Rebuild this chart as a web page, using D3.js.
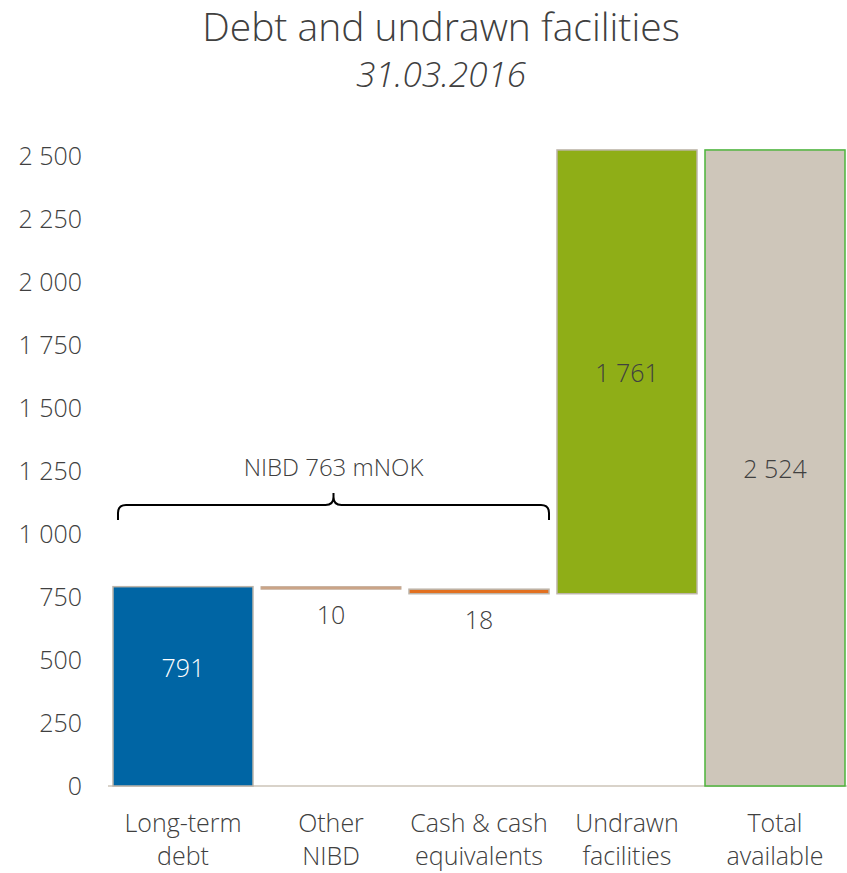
<!DOCTYPE html>
<html>
<head>
<meta charset="utf-8">
<script src="https://cdn.jsdelivr.net/npm/d3@7"></script>
<style>
  body { margin: 0; background: #fff; }
  text { font-family: "Open Sans", sans-serif; font-weight: 300; fill: #404040; }
</style>
</head>
<body>
<div class="chart"></div>
<script>
//////////
// DATA //
//////////

var categories = ['Long-term debt', 'Other NIBD', 'Cash & cash equivalents', 'Undrawn facilities', 'Total available'];
var labelLines = [['Long-term', 'debt'], ['Other', 'NIBD'], ['Cash & cash', 'equivalents'], ['Undrawn', 'facilities'], ['Total', 'available']];
var barStart = [0, 791, 781, 763, 0];
var barEnd = [791, 781, 763, 2524, 2524];
var barValues = [791, 10, 18, 1761, 2524];
var yTicks = [0, 250, 500, 750, 1000, 1250, 1500, 1750, 2000, 2250, 2500];
var bracketLabel = 'NIBD 763 mNOK';

var fills = ['#0065A4', '#CDA282', '#E2701F', '#8FAE17', '#CEC6BA'];
var strokes = ['#BDB5AA', '#C4AC98', '#BDB5AA', '#BDB5AA', '#4DB43C'];

////////////////
// DIMENSIONS //
////////////////

var w = 847, h = 873;

var svg = d3.select('.chart')
    .append('svg')
    .attr('width', w)
    .attr('height', h);

var fmt = d3.formatLocale({ decimal: ',', thousands: ' ', grouping: [3], currency: ['', ''] }).format(',d');

////////////
// SCALES //
////////////

var xScale = d3.scaleBand()
    .domain(categories)
    .range([109, 849])
    .paddingInner(0.054)
    .paddingOuter(0.027);

var yScale = d3.scaleLinear()
    .domain([0, 2500])
    .range([786, 156]);

///////////
// TITLE //
///////////

svg.append('text')
    .attr('x', 441).attr('y', 41)
    .attr('text-anchor', 'middle')
    .style('font-size', '39px')
    .text('Debt and undrawn facilities');

svg.append('text')
    .attr('x', 441).attr('y', 87)
    .attr('text-anchor', 'middle')
    .style('font-size', '35px')
    .style('font-style', 'italic')
    .text('31.03.2016');

//////////
// AXIS //
//////////

var yAxis = d3.axisLeft(yScale)
    .tickValues(yTicks)
    .tickSize(0)
    .tickPadding(0)
    .tickFormat(fmt);

var yG = svg.append('g')
    .attr('transform', 'translate(82,0)')
    .call(yAxis);
yG.select('.domain').remove();
yG.selectAll('text')
    .style('font-size', '25px')
    .style('font-family', '"Open Sans", sans-serif')
    .attr('fill', '#404040');

svg.append('line')
    .attr('x1', 108).attr('x2', w)
    .attr('y1', yScale(0)).attr('y2', yScale(0))
    .attr('stroke', '#CCC4B8')
    .attr('stroke-width', 1.5);

//////////
// BARS //
//////////

var bars = categories.map(function(c, i) {
    return { cat: c, start: barStart[i], end: barEnd[i], value: barValues[i], i: i };
});

svg.selectAll('.bar')
    .data(bars)
    .enter()
    .append('rect')
    .attr('class', 'bar')
    .attr('x', function(d) { return xScale(d.cat); })
    .attr('y', function(d) { return yScale(Math.max(d.start, d.end)); })
    .attr('width', xScale.bandwidth())
    .attr('height', function(d) { return Math.abs(yScale(d.start) - yScale(d.end)); })
    .attr('fill', function(d) { return fills[d.i]; })
    .attr('stroke', function(d) { return strokes[d.i]; })
    .attr('stroke-width', function(d) { return d.value < 15 ? 1 : 1.5; });

//////////////////
// VALUE LABELS //
//////////////////

svg.selectAll('.val')
    .data(bars)
    .enter()
    .append('text')
    .attr('class', 'val')
    .attr('x', function(d) { return xScale(d.cat) + xScale.bandwidth() / 2; })
    .attr('y', function(d) {
        var lo = Math.min(d.start, d.end), hi = Math.max(d.start, d.end);
        if (d.value < 100) return yScale(lo) + 35;
        if (d.i === 0) return yScale(lo + (hi - lo) * 0.59) + 9;
        return (yScale(lo) + yScale(hi)) / 2 + 10;
    })
    .attr('text-anchor', 'middle')
    .style('font-size', '25px')
    .style('fill', function(d) { return d.i === 0 ? '#ffffff' : '#404040'; })
    .text(function(d) { return fmt(d.value); });

/////////////////////
// CATEGORY LABELS //
/////////////////////

var catG = svg.selectAll('.cat')
    .data(bars)
    .enter()
    .append('text')
    .attr('class', 'cat')
    .attr('text-anchor', 'middle')
    .style('font-size', '25px');

catG.selectAll('tspan')
    .data(function(d) { return labelLines[d.i].map(function(t) { return { t: t, x: xScale(d.cat) + xScale.bandwidth() / 2 }; }); })
    .enter()
    .append('tspan')
    .attr('x', function(d) { return d.x; })
    .attr('y', function(d, j) { return 832 + j * 33; })
    .text(function(d) { return d.t; });

/////////////
// BRACKET //
/////////////

var bx0 = xScale(categories[0]) + 5,
    bx1 = xScale(categories[2]) + xScale.bandwidth(),
    bmid = (bx0 + bx1) / 2,
    by = 505, r = 8;

svg.append('path')
    .attr('d', 'M' + bx0 + ',' + (by + 15) +
        ' L' + bx0 + ',' + (by + r) +
        ' Q' + bx0 + ',' + by + ' ' + (bx0 + r) + ',' + by +
        ' L' + (bmid - r) + ',' + by +
        ' Q' + bmid + ',' + by + ' ' + bmid + ',' + (by - r) +
        ' L' + bmid + ',' + (by - 12) +
        ' M' + bmid + ',' + (by - r) +
        ' Q' + bmid + ',' + by + ' ' + (bmid + r) + ',' + by +
        ' L' + (bx1 - r) + ',' + by +
        ' Q' + bx1 + ',' + by + ' ' + bx1 + ',' + (by + r) +
        ' L' + bx1 + ',' + (by + 15))
    .attr('fill', 'none')
    .attr('stroke', '#000')
    .attr('stroke-width', 2);

svg.append('text')
    .attr('x', bmid).attr('y', 476)
    .attr('text-anchor', 'middle')
    .style('font-size', '24px')
    .text(bracketLabel);
</script>
</body>
</html>
